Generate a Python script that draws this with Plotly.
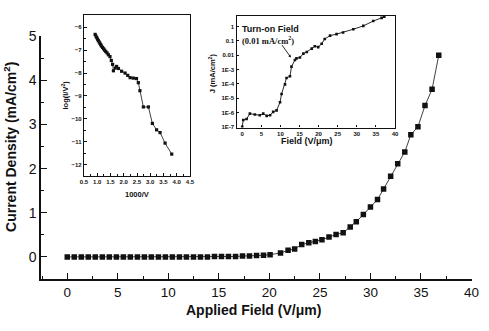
import plotly.graph_objects as go

# Main curve: current density vs applied field
field = [0.00, 0.69, 1.39, 2.08, 2.77, 3.47, 4.16, 4.86, 5.55, 6.24, 6.94, 7.63,
         8.32, 9.02, 9.71, 10.40, 11.10, 11.79, 12.49, 13.18, 13.87, 14.57, 15.26,
         15.95, 16.65, 17.34, 18.03, 18.73, 19.42, 20.07, 21.10, 21.85, 22.50, 23.20,
         23.90, 24.55, 25.20, 25.90, 26.60, 27.30, 28.00, 28.60, 29.30, 30.00, 30.70,
         31.30, 32.00, 32.70, 33.40, 34.00, 34.70, 35.40, 36.10, 36.76]
current = [0.00, 0.00, 0.00, 0.00, 0.00, 0.00, 0.00, 0.00, 0.00, 0.00, 0.00, 0.00,
           0.00, 0.00, 0.00, 0.00, 0.00, 0.00, 0.00, 0.00, 0.00, 0.01, 0.01,
           0.01, 0.01, 0.02, 0.02, 0.03, 0.04, 0.05, 0.09, 0.15, 0.18, 0.28,
           0.32, 0.35, 0.39, 0.45, 0.51, 0.55, 0.68, 0.80, 0.96, 1.13, 1.30,
           1.54, 1.83, 2.11, 2.38, 2.77, 2.95, 3.43, 3.80, 4.57]

# Fowler-Nordheim plot: log(I/V^2) vs 1000/V
inv_v = [0.92, 0.95, 0.98, 1.01, 1.04, 1.07, 1.10, 1.13, 1.16, 1.20, 1.24, 1.28,
         1.32, 1.37, 1.42, 1.48, 1.53, 1.58, 1.61, 1.68, 1.73, 1.80, 1.92, 2.05,
         2.15, 2.24, 2.36, 2.48, 2.55, 2.61, 2.74, 2.93, 3.08, 3.24, 3.37, 3.56, 3.81]
log_iv2 = [-6.31, -6.38, -6.45, -6.52, -6.58, -6.64, -6.70, -6.76, -6.82, -6.88,
           -6.94, -7.00, -7.06, -7.12, -7.20, -7.28, -7.45, -7.62, -7.90, -7.78,
           -7.71, -7.80, -7.92, -8.00, -8.10, -8.20, -8.22, -8.24, -8.42, -8.77,
           -9.48, -9.48, -10.20, -10.48, -10.60, -11.06, -11.54]

# Log-scale J vs field
fld_log = [0.0, 0.27, 1.15, 2.0, 3.3, 4.6, 5.5, 6.4, 7.3, 8.1, 9.0, 9.9, 10.3, 11.2,
           11.6, 12.5, 12.9, 13.8, 14.2, 15.1, 16.0, 16.9, 18.2, 19.0, 19.9, 20.8,
           21.6, 23.0, 24.7, 26.4, 29.1, 31.7, 34.3, 36.5, 37.2]
j_log = [1.0e-7, 3.0e-7, 3.5e-7, 8.3e-7, 7.2e-7, 6.5e-7, 8.3e-7, 5.8e-7, 6.5e-7,
         1.1e-6, 1.4e-6, 5.2e-6, 1.95e-5, 9.3e-5, 2.6e-4, 3.4e-4, 1.6e-3, 4.7e-3,
         6.0e-3, 6.9e-3, 1.3e-2, 1.7e-2, 2.9e-2, 4.2e-2, 3.7e-2, 6.3e-2, 0.138,
         0.234, 0.30, 0.39, 0.66, 1.12, 2.45, 4.1, 5.0]

main_x_ticks = [0, 5, 10, 15, 20, 25, 30, 35, 40]
main_y_ticks = [0, 1, 2, 3, 4, 5]
fn_x_ticks = [0.5, 1.0, 1.5, 2.0, 2.5, 3.0, 3.5, 4.0, 4.5]
fn_x_text = ["0.5", "1.0", "1.5", "2.0", "2.5", "3.0", "3.5", "4.0", "4.5"]
fn_y_ticks = [-6, -7, -8, -9, -10, -11, -12]
log_y_ticks = [1e-7, 1e-6, 1e-5, 1e-4, 1e-3, 0.01, 0.1, 1]
log_y_text = ["1E-7", "1E-6", "1E-5", "1E-4", "1E-3", "0.01", "0.1", "1"]
log_x_ticks = [0, 5, 10, 15, 20, 25, 30, 35, 40]

W, H = 489, 331
ML, MR, MT, MB = 41, 17, 4, 52
PW, PH = W - ML - MR, H - MT - MB


def fx(px):
    return (px - ML) / PW


def fy(py):
    return (H - MB - py) / PH


FONT = "Liberation Sans, Arial, Helvetica, sans-serif"
INK = "#111111"

fig = go.Figure()

fig.add_trace(go.Scatter(
    x=field, y=current, mode="lines+markers",
    line=dict(color=INK, width=0.8),
    marker=dict(symbol="square", size=5.5, color=INK),
    xaxis="x", yaxis="y", showlegend=False))

fig.add_trace(go.Scatter(
    x=inv_v, y=log_iv2, mode="lines+markers",
    line=dict(color=INK, width=0.8),
    marker=dict(symbol="square", size=3.2, color=INK),
    xaxis="x2", yaxis="y2", showlegend=False))

fig.add_trace(go.Scatter(
    x=fld_log, y=j_log, mode="lines+markers",
    line=dict(color=INK, width=0.9),
    marker=dict(symbol="square", size=2.6, color=INK),
    xaxis="x3", yaxis="y3", showlegend=False))

small = dict(family=FONT, size=6, color=INK, weight="bold")

fig.update_layout(
    width=W, height=H,
    margin=dict(l=ML, r=MR, t=MT, b=MB),
    paper_bgcolor="white", plot_bgcolor="white",
    font=dict(family=FONT, color=INK),
    xaxis=dict(
        domain=[0, 1], range=[-2.6, 40.05],
        tickvals=main_x_ticks, ticks="inside", ticklen=6, tickwidth=1.3,
        tickcolor=INK, minor=dict(dtick=2.5, tick0=0, ticks="inside", ticklen=3,
                                  tickwidth=1, tickcolor=INK),
        showline=True, linecolor=INK, linewidth=1.5, showgrid=False, zeroline=False,
        tickfont=dict(size=13.5, family=FONT, color=INK), anchor="y"),
    yaxis=dict(
        domain=[0, fy(29)], range=[-0.5, 5.0],
        tickvals=main_y_ticks, ticks="inside", ticklen=6, tickwidth=1.3,
        tickcolor=INK, minor=dict(dtick=0.5, tick0=0, ticks="inside", ticklen=3,
                                  tickwidth=1, tickcolor=INK),
        showline=True, linecolor=INK, linewidth=1.5, showgrid=False, zeroline=False,
        tickfont=dict(size=14, family=FONT, color=INK), anchor="x"),
    xaxis2=dict(
        domain=[fx(84), fx(190)], range=[0.5, 4.5], anchor="y2",
        tickvals=fn_x_ticks, ticktext=fn_x_text, ticks="inside", ticklen=2.5,
        tickcolor=INK, minor=dict(dtick=0.25, tick0=0.5, ticks="inside", ticklen=1.5,
                                  tickcolor=INK),
        showline=True, mirror=True, linecolor=INK, linewidth=1.4,
        showgrid=False, zeroline=False, tickfont=small),
    yaxis2=dict(
        domain=[fy(173), fy(7)], range=[-12.5, -5.46], anchor="x2",
        tickvals=fn_y_ticks, ticks="inside", ticklen=2.5, tickcolor=INK,
        minor=dict(dtick=0.5, tick0=0, ticks="inside", ticklen=1.5, tickcolor=INK),
        showline=True, mirror=True, linecolor=INK, linewidth=1.4,
        showgrid=False, zeroline=False, tickfont=small),
    xaxis3=dict(
        domain=[fx(236.5), fx(395)], range=[-1.5, 40], anchor="y3",
        tickvals=log_x_ticks, ticks="inside", ticklen=2.5, tickcolor=INK,
        showline=True, mirror=True, linecolor=INK, linewidth=1.4,
        showgrid=False, zeroline=False, tickfont=small),
    yaxis3=dict(
        domain=[fy(123), fy(8)], type="log", range=[-7.05, 0.75], anchor="x3",
        tickvals=log_y_ticks, ticktext=log_y_text, ticks="inside", ticklen=2.5,
        tickcolor=INK, showline=True, mirror=True, linecolor=INK, linewidth=1.4,
        showgrid=False, zeroline=False, tickfont=small),
)

annotations = [
    dict(text="<b>Applied Field (V/\u03bcm)</b>", x=fx(253), y=fy(311),
         font=dict(size=14, family=FONT, color=INK)),
    dict(text="<b>Current Density (mA/cm<sup>2</sup>)</b>", x=fx(10), y=fy(143),
         textangle=-90, font=dict(size=14, family=FONT, color=INK)),
    dict(text="<b>1000/V</b>", x=fx(137), y=fy(192),
         font=dict(size=7.5, family=FONT, color=INK)),
    dict(text="<b>log(I/V<sup>2</sup>)</b>", x=fx(65), y=fy(90), textangle=-90,
         font=dict(size=7.5, family=FONT, color=INK)),
    dict(text="<b>Field (V/\u03bcm)</b>", x=fx(307), y=fy(137),
         font=dict(size=9, family=FONT, color=INK)),
    dict(text="<b>J (mA/cm<sup>2</sup>)</b>", x=fx(212), y=fy(67), textangle=-90,
         font=dict(size=7.5, family=FONT, color=INK)),
    dict(text="<b>Turn-on Field</b>", x=fx(240), y=fy(21), xanchor="left",
         font=dict(size=9, family=FONT, color=INK)),
    dict(text="<b>(0.01 mA/cm<sup>2</sup>)</b>", x=fx(240), y=fy(33), xanchor="left",
         font=dict(size=8.5, family="Liberation Serif, Times New Roman, serif", color=INK)),
]
for a in annotations:
    a.update(xref="paper", yref="paper", showarrow=False)
    a.setdefault("xanchor", "center")
    a["yanchor"] = "middle"

annotations.append(dict(
    x=12.75, y=-2.16, xref="x3", yref="y3", ax=-10, ay=-14, showarrow=True,
    arrowhead=2, arrowsize=0.6, arrowwidth=0.9, arrowcolor=INK, text=""))

fig.update_layout(annotations=annotations)

fig.write_html("out.html")
